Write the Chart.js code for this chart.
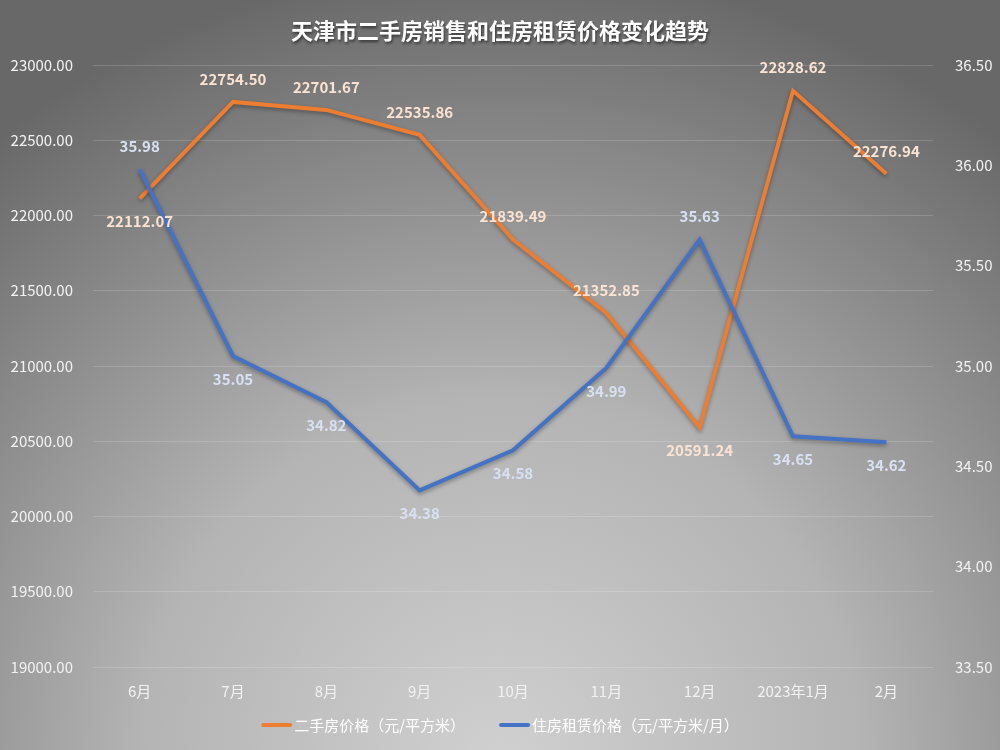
<html lang="zh">
<head>
    <meta charset="UTF-8">
    <title>天津市二手房销售和住房租赁价格变化趋势</title>
    <script src="https://cdn.jsdelivr.net/npm/chart.js"></script>
    <style>
        html, body { margin: 0; padding: 0; background: #777; }
        #wrap { width: 1000px; height: 750px; position: relative; }
    </style>
</head>
<body>
<div id="wrap"><canvas id="trendChart" width="1000" height="750"></canvas></div>

<script>
    // data
    const months = ['6月', '7月', '8月', '9月', '10月', '11月', '12月', '2023年1月', '2月'];
    const salePrice = [22112.07, 22754.50, 22701.67, 22535.86, 21839.49, 21352.85, 20591.24, 22828.62, 22276.94];
    const rentPrice = [35.98, 35.05, 34.82, 34.38, 34.58, 34.99, 35.63, 34.65, 34.62];
    const leftTicks = [19000, 23000, 500];
    const rightTicks = [33.5, 36.5, 0.5];

    // label placement (above / below the point)
    const salePos = ['below', 'above', 'above', 'above', 'above', 'above', 'below', 'above', 'above'];
    const rentPos = ['above', 'below', 'below', 'below', 'below', 'below', 'above', 'below', 'below'];

    const FONT = '"Noto Sans CJK SC", "Noto Sans", sans-serif';

    // radial grey background + title
    const bgPlugin = {
        id: 'bg',
        beforeDraw(chart) {
            const c = chart.ctx;
            const g = c.createRadialGradient(500, 760, 0, 500, 760, 800);
            g.addColorStop(0, '#d0d0d0');
            g.addColorStop(0.45, '#b4b4b4');
            g.addColorStop(1, '#686868');
            c.save();
            c.fillStyle = g;
            c.fillRect(0, 0, chart.width, chart.height);
            c.font = 'bold 22px ' + FONT;
            c.textAlign = 'center';
            c.textBaseline = 'middle';
            c.shadowColor = 'rgba(0,0,0,0.55)';
            c.shadowBlur = 3;
            c.shadowOffsetX = 1;
            c.shadowOffsetY = 2;
            c.fillStyle = '#ffffff';
            c.fillText('天津市二手房销售和住房租赁价格变化趋势', 500, 31);
            c.restore();
        }
    };

    // soft shadow under the lines
    const shadowPlugin = {
        id: 'lineShadow',
        beforeDatasetDraw(chart) {
            const c = chart.ctx;
            c.save();
            c.shadowColor = 'rgba(0,0,0,0.35)';
            c.shadowBlur = 4;
            c.shadowOffsetY = 2;
        },
        afterDatasetDraw(chart) {
            chart.ctx.restore();
        }
    };

    // value labels + bottom legend
    const labelPlugin = {
        id: 'valueLabels',
        afterDatasetsDraw(chart) {
            const c = chart.ctx;
            c.save();
            c.font = 'bold 15px ' + FONT;
            c.textAlign = 'center';
            c.textBaseline = 'middle';
            chart.data.datasets.forEach((ds, i) => {
                const meta = chart.getDatasetMeta(i);
                const pos = i === 0 ? salePos : rentPos;
                c.fillStyle = i === 0 ? '#fbe3d3' : '#d7e1f2';
                meta.data.forEach((pt, j) => {
                    const dy = pos[j] === 'above' ? -23 : 23;
                    c.fillText(ds.data[j].toFixed(2), pt.x, pt.y + dy);
                });
            });

            // legend
            c.font = '15px ' + FONT;
            c.textAlign = 'left';
            const sw = 31, gap = 2, between = 34, ly = 725;
            const widths = chart.data.datasets.map(ds => c.measureText(ds.label).width);
            const total = widths.reduce((a, w) => a + sw + gap + w, 0) + between;
            let x = 500 - total / 2;
            chart.data.datasets.forEach((ds, i) => {
                c.strokeStyle = ds.borderColor;
                c.lineWidth = 4;
                c.lineCap = 'round';
                c.beginPath();
                c.moveTo(x + 2, ly);
                c.lineTo(x + sw - 2, ly);
                c.stroke();
                c.fillStyle = '#ffffff';
                c.fillText(ds.label, x + sw + gap, ly);
                x += sw + gap + widths[i] + between;
            });
            c.restore();
        }
    };

    const ctx = document.getElementById('trendChart').getContext('2d');
    new Chart(ctx, {
        type: 'line',
        data: {
            labels: months,
            datasets: [{
                label: '二手房价格（元/平方米）',
                data: salePrice,
                yAxisID: 'y',
                borderColor: '#ED7D31',
                backgroundColor: '#ED7D31',
                borderWidth: 4,
                pointRadius: 0,
                tension: 0,
                order: 1
            }, {
                label: '住房租赁价格（元/平方米/月）',
                data: rentPrice,
                yAxisID: 'y1',
                borderColor: '#4472C4',
                backgroundColor: '#4472C4',
                borderWidth: 4,
                pointRadius: 0,
                tension: 0,
                order: 0
            }]
        },
        options: {
            responsive: false,
            animation: false,
            layout: { padding: { top: 65, left: 0, right: 0, bottom: 43 } },
            plugins: {
                title: { display: false },
                tooltip: { enabled: false },
                legend: { display: false }
            },
            scales: {
                x: {
                    offset: true,
                    grid: { display: false },
                    border: { display: false },
                    ticks: { color: '#f2f2f2', font: { family: FONT, size: 15 }, padding: 7 }
                },
                y: {
                    position: 'left',
                    min: leftTicks[0],
                    max: leftTicks[1],
                    grid: { color: 'rgba(255,255,255,0.16)', lineWidth: 1, drawTicks: false },
                    border: { display: false },
                    ticks: {
                        stepSize: leftTicks[2],
                        color: '#f2f2f2',
                        font: { family: FONT, size: 15 },
                        padding: 20,
                        callback: v => v.toFixed(2)
                    },
                    afterFit(s) { s.width = 93; }
                },
                y1: {
                    position: 'right',
                    min: rightTicks[0],
                    max: rightTicks[1],
                    grid: { display: false },
                    border: { display: false },
                    ticks: {
                        stepSize: rightTicks[2],
                        color: '#f2f2f2',
                        font: { family: FONT, size: 15 },
                        padding: 14,
                        callback: v => v.toFixed(2)
                    },
                    afterFit(s) { s.width = 67; }
                }
            }
        },
        plugins: [bgPlugin, shadowPlugin, labelPlugin]
    });
</script>
</body>
</html>
